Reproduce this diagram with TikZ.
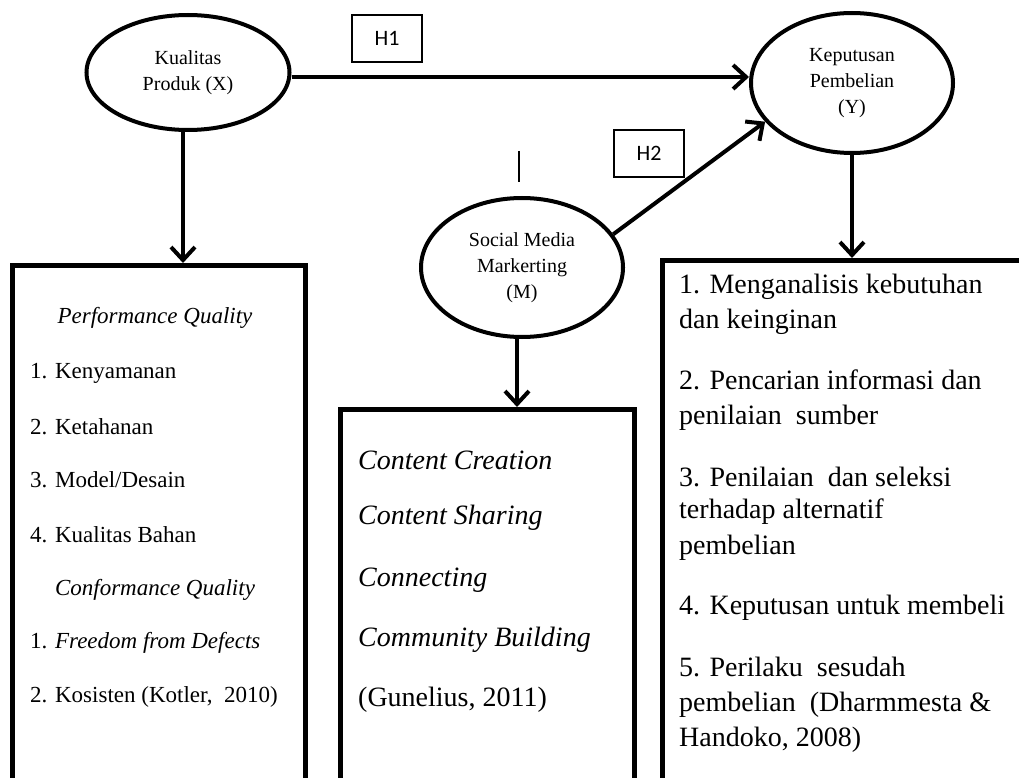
\documentclass[tikz,border=0pt]{standalone}
\usepackage{fontspec}
\setmainfont{Liberation Serif}
\newfontfamily\hfont{Carlito}
\usetikzlibrary{arrows.meta,shapes.geometric}

\begin{document}
\begin{tikzpicture}[x=1pt,y=-1pt,
  ell/.style={ellipse, draw, line width=4pt, inner sep=0pt, align=center,
    font=\fontsize{20}{26}\selectfont},
  hbox/.style={draw, line width=1.3pt, minimum width=70pt, minimum height=47pt,
    inner sep=0pt, font=\hfont\fontsize{22}{26}\selectfont},
  frame/.style={draw, line width=4.5pt, anchor=north west, inner sep=0pt},
  arr/.style={line width=4pt, -{Straight Barb[length=13pt,width=24pt]}},
  ltxt/.style={inner sep=0pt, font=\fontsize{23}{28}\selectfont},
  mtxt/.style={inner sep=0pt, anchor=west, font=\fontsize{28}{34}\selectfont\itshape},
  rtxt/.style={inner sep=0pt, anchor=west, font=\fontsize{28}{34}\selectfont},
]
\useasboundingbox[fill=white] (0,0) rectangle (1019,778);

% ellipses
\node[ell, minimum width=203pt, minimum height=115pt] (X) at (188,72.5) {Kualitas\\Produk (X)};
\node[ell, minimum width=202pt, minimum height=140pt] (Y) at (852,83) {Keputusan\\Pembelian\\(Y)};
\node[ell, minimum width=202pt, minimum height=139pt] (M) at (522,267.5) {Social Media\\Markerting\\(M)};

% hypothesis labels
\node[hbox] (H1) at (387,38.5) {H1};
\node[hbox] (H2) at (649,153.5) {H2};

% stray mark
\coordinate (s1) at (519,151);
\coordinate (s2) at (519,182);
\draw[line width=2.5pt] (s1) -- (s2);

% frames (open at the bottom/right edge of the picture)
\node[frame, minimum width=293pt, minimum height=600pt] (BX) at (10,263) {};
\node[frame, minimum width=294pt, minimum height=500pt] (BM) at (338,407) {};
\node[frame, minimum width=500pt, minimum height=600pt] (BY) at (660,258) {};

% connectors
\draw[arr] (X.east |- 0,77) -- (Y.west |- 0,77);
\draw[arr] (M.20) -- (Y.204);
\draw[arr] (X.south -| 183,0) -- (183,0 |- BX.north);
\draw[arr] (M.south -| 517,0) -- (517,0 |- BM.north);
\draw[arr] (Y.south) -- (Y.south |- BY.north);

% left box text
\node[ltxt] (l0) at (155,318) {\textit{Performance Quality}};
\node[ltxt, anchor=west] (l1) at (30,373) {1. Kenyamanan};
\node[ltxt, anchor=west] (l2) at (30,427) {2. Ketahanan};
\node[ltxt, anchor=west] (l3) at (30,480) {3. Model/Desain};
\node[ltxt, anchor=west] (l4) at (30,535) {4. Kualitas Bahan};
\node[ltxt] (l5) at (155,590) {\textit{Conformance Quality}};
\node[ltxt, anchor=west] (l6) at (30,643) {1. \textit{Freedom from Defects}};
\node[ltxt, anchor=west] (l7) at (30,697) {2. Kosisten (Kotler,\ \ 2010)};

% middle box text
\node[mtxt] (m1) at (358,460) {Content Creation};
\node[mtxt] (m2) at (358,518) {Content Sharing};
\node[mtxt] (m3) at (358,580) {Connecting};
\node[mtxt] (m4) at (358,640) {Community Building};
\node[mtxt, font=\fontsize{28}{34}\selectfont\upshape] (m5) at (358,700) {(Gunelius, 2011)};

% right box text
\node[rtxt] (r1) at (679,287) {1. Menganalisis kebutuhan};
\node[rtxt] (r2) at (679,322) {dan keinginan};
\node[rtxt] (r3) at (679,380) {2. Pencarian informasi dan};
\node[rtxt] (r4) at (679,418) {penilaian\ \ sumber};
\node[rtxt] (r5) at (679,477) {3. Penilaian\ \ dan seleksi};
\node[rtxt] (r6) at (679,512) {terhadap alternatif};
\node[rtxt] (r7) at (679,548) {pembelian};
\node[rtxt] (r8) at (679,608) {4. Keputusan untuk membeli};
\node[rtxt] (r9) at (679,667) {5. Perilaku\ \ sesudah};
\node[rtxt] (r10) at (679,705) {pembelian\ \ (Dharmmesta \&};
\node[rtxt] (r11) at (679,740) {Handoko, 2008)};
\end{tikzpicture}
\end{document}
